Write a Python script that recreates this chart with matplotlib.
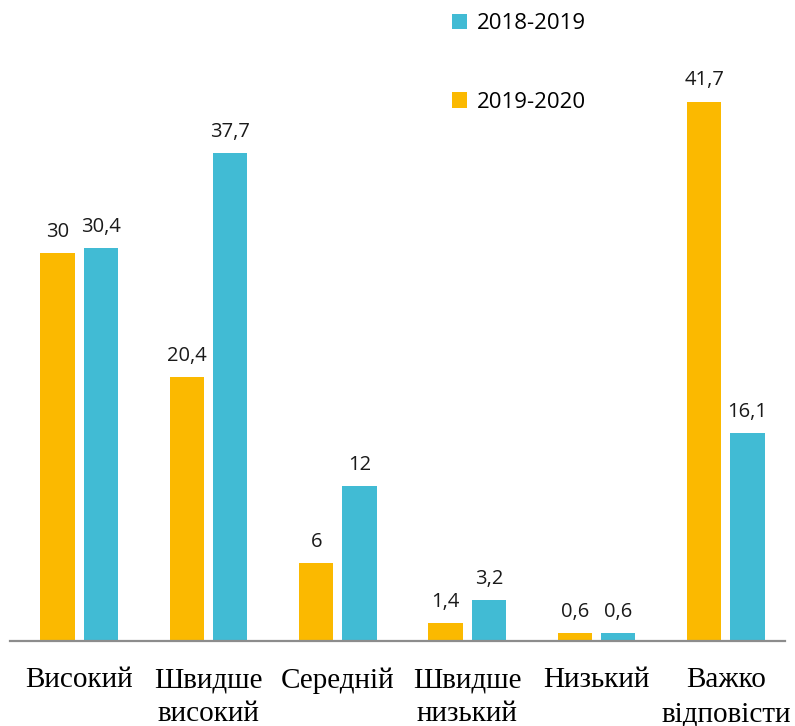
import numpy as np
import matplotlib.pyplot as plt

# data
categories = ["Високий", "Швидше\nвисокий", "Середній", "Швидше\nнизький", "Низький", "Важко\nвідповісти"]
vals_2019_2020 = [30, 20.4, 6, 1.4, 0.6, 41.7]
vals_2018_2019 = [30.4, 37.7, 12, 3.2, 0.6, 16.1]

orange = "#FBB900"
blue = "#41BBD4"

fig = plt.figure(figsize=(7.95, 7.26), dpi=100)
ax = fig.add_axes([0.0126, 0.117, 0.9748, 0.802])

x = np.arange(len(categories))
w = 0.265
off = 0.167

b1 = ax.bar(x - off, vals_2019_2020, w, color=orange, label="2019-2020")
b2 = ax.bar(x + off, vals_2018_2019, w, color=blue, label="2018-2019")


def fmt(v):
    s = f"{v:g}"
    return s.replace(".", ",")


for bars, vals in [(b1, vals_2019_2020), (b2, vals_2018_2019)]:
    for rect, v in zip(bars, vals):
        ax.annotate(fmt(v), (rect.get_x() + rect.get_width() / 2, v),
                    xytext=(0, 8), textcoords="offset points",
                    ha="center", va="bottom", fontsize=14.5,
                    family="Open Sans", color="#1a1a1a")

ax.set_xlim(-0.535, 5.457)
ax.set_ylim(0, 45)
ax.set_yticks([])
ax.set_xticks(x)
ax.set_xticklabels(categories, family="Liberation Serif", fontsize=21,
                   linespacing=1.4)
ax.tick_params(axis="x", length=0, pad=19)
for s in ["top", "right", "left"]:
    ax.spines[s].set_visible(False)
ax.spines["bottom"].set_color("#8c8c8c")
ax.spines["bottom"].set_linewidth(1.6)

fig.legend(handles=[b2, b1], labels=["2018-2019", "2019-2020"],
           loc="upper left", bbox_to_anchor=(0.569, 0.982),
           frameon=False, borderpad=0, borderaxespad=0,
           handlelength=0.65, handleheight=0.7, handletextpad=0.45,
           labelspacing=2.6, prop={"family": "Open Sans", "size": 16})

fig.savefig("out.png", dpi=100)
